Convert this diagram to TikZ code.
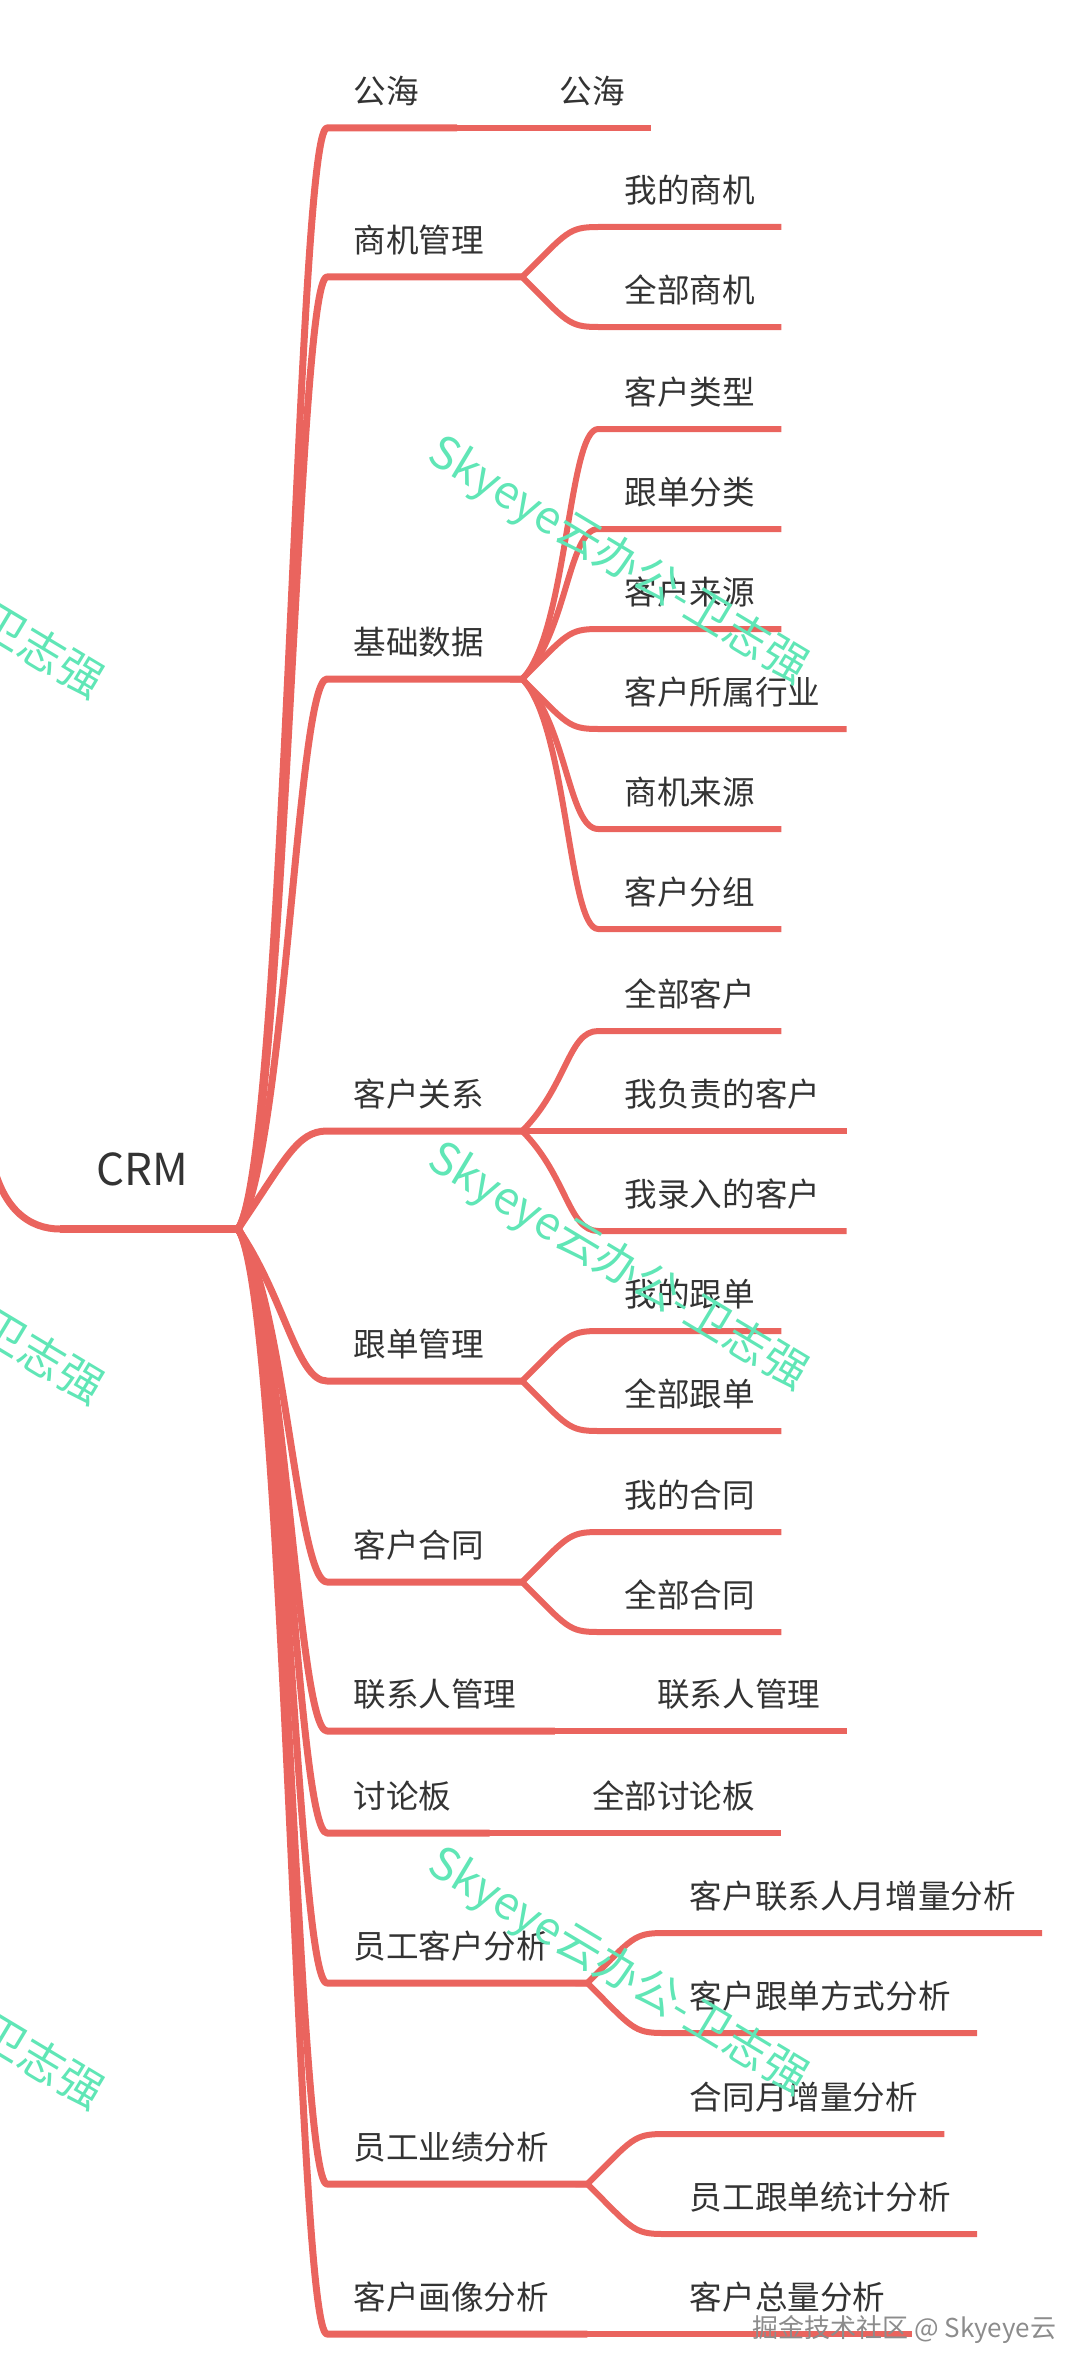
\documentclass[tikz,border=0pt]{standalone}
\usepackage{fontspec}
\newfontfamily\cjk{Noto Sans CJK SC}
\usetikzlibrary{positioning}
\definecolor{linkred}{RGB}{234,100,94}
\definecolor{textgray}{RGB}{51,51,51}
\definecolor{wmgreen}{RGB}{96,230,182}
\definecolor{wmgray}{RGB}{140,140,140}

\begin{document}
\begin{tikzpicture}[x=0.5pt, y=-0.5pt,
    root/.style={anchor=base west, inner sep=0pt, text=textgray, font=\cjk\fontsize{22}{26}\selectfont},
    topic/.style={anchor=south west, inner xsep=13pt, inner ysep=12pt, text depth=0pt, text=textgray, font=\cjk\fontsize{16.3}{20}\selectfont},
    leaf/.style={topic},
    trunk/.style={draw=linkred, line width=3.5pt, line join=round},
    link/.style={draw=linkred, line width=3pt, line join=round},
    wmark/.style={text=wmgreen, rotate=-31, inner sep=0pt, font=\cjk\fontsize{22.5}{26}\selectfont},
    site/.style={anchor=base west, inner sep=0pt, text=wmgray, font=\cjk\fontsize{13}{16}\selectfont}
]
    \useasboundingbox (0,0) rectangle (1080,2376);

    \node[root] (crm) at (96,1185) {CRM};
    \coordinate (crm-in) at (-10,1150);
    \coordinate (crm-l) at (60,1229);
    \coordinate (crm-j) at (238,1229);

    \node[topic] (gh) at (327,128) {公海};
    \node[topic] (sjgl) at (327,277) {商机管理};
    \node[topic] (jcsj) at (327,679) {基础数据};
    \node[topic] (khgx) at (327,1131) {客户关系};
    \node[topic] (gdgl) at (327,1381) {跟单管理};
    \node[topic] (khht) at (327,1582) {客户合同};
    \node[topic] (lxrgl) at (327,1731) {联系人管理};
    \node[topic] (tlb) at (327,1833) {讨论板};
    \node[topic] (ygkh) at (327,1983) {员工客户分析};
    \node[topic] (ygyj) at (327,2184) {员工业绩分析};
    \node[topic] (khhx) at (327,2334) {客户画像分析};

    \coordinate[right=6pt of gh.south east] (gh-j);
    \coordinate[right=6pt of sjgl.south east] (sjgl-j);
    \coordinate[right=6pt of jcsj.south east] (jcsj-j);
    \coordinate[right=6pt of khgx.south east] (khgx-j);
    \coordinate[right=6pt of gdgl.south east] (gdgl-j);
    \coordinate[right=6pt of khht.south east] (khht-j);
    \coordinate[right=6pt of lxrgl.south east] (lxrgl-j);
    \coordinate[right=6pt of tlb.south east] (tlb-j);
    \coordinate[right=6pt of ygkh.south east] (ygkh-j);
    \coordinate[right=6pt of ygyj.south east] (ygyj-j);
    \coordinate[right=6pt of khhx.south east] (khhx-j);

    \node[leaf, right=38pt of gh-j, anchor=south west] (gh1) {公海};

    \node[leaf, above right=25pt and 38pt of sjgl-j] (wdsj) {我的商机};
    \node[leaf, below right=25pt and 38pt of sjgl-j, anchor=south west] (qbsj) {全部商机};

    \node[leaf, above right=125pt and 38pt of jcsj-j] (khlx) {客户类型};
    \node[leaf, above right=75pt and 38pt of jcsj-j] (gdfl) {跟单分类};
    \node[leaf, above right=25pt and 38pt of jcsj-j] (khly) {客户来源};
    \node[leaf, below right=25pt and 38pt of jcsj-j, anchor=south west] (khhy) {客户所属行业};
    \node[leaf, below right=75pt and 38pt of jcsj-j, anchor=south west] (sjly) {商机来源};
    \node[leaf, below right=125pt and 38pt of jcsj-j, anchor=south west] (khfz) {客户分组};

    \node[leaf, above right=50pt and 38pt of khgx-j] (qbkh) {全部客户};
    \node[leaf, right=38pt of khgx-j, anchor=south west] (wfzkh) {我负责的客户};
    \node[leaf, below right=50pt and 38pt of khgx-j, anchor=south west] (wlrkh) {我录入的客户};

    \node[leaf, above right=25pt and 38pt of gdgl-j] (wdgd) {我的跟单};
    \node[leaf, below right=25pt and 38pt of gdgl-j, anchor=south west] (qbgd) {全部跟单};

    \node[leaf, above right=25pt and 38pt of khht-j] (wdht) {我的合同};
    \node[leaf, below right=25pt and 38pt of khht-j, anchor=south west] (qbht) {全部合同};

    \node[leaf, right=38pt of lxrgl-j, anchor=south west] (lxrgl1) {联系人管理};
    \node[leaf, right=38pt of tlb-j, anchor=south west] (qbtlb) {全部讨论板};

    \node[leaf, above right=25pt and 38pt of ygkh-j] (lxrzl) {客户联系人月增量分析};
    \node[leaf, below right=25pt and 38pt of ygkh-j, anchor=south west] (gdfs) {客户跟单方式分析};

    \node[leaf, above right=25pt and 38pt of ygyj-j] (htzl) {合同月增量分析};
    \node[leaf, below right=25pt and 38pt of ygyj-j, anchor=south west] (gdtj) {员工跟单统计分析};

    \node[leaf, right=38pt of khhx-j, anchor=south west] (khzl) {客户总量分析};

    \draw[trunk] (crm-in) .. controls +(10,60) and +(-30,0) .. (crm-l) -- (crm-j);
    \draw[trunk] (crm-l) -- (crm-j) .. controls +(47,-69) and +(-30,0) .. (gh.south west) -- (gh-j);
    \draw[trunk] (crm-l) -- (crm-j) .. controls +(47,-69) and +(-30,0) .. (sjgl.south west) -- (sjgl-j);
    \draw[trunk] (crm-l) -- (crm-j) .. controls +(47,-69) and +(-30,0) .. (jcsj.south west) -- (jcsj-j);
    \draw[trunk] (crm-l) -- (crm-j) .. controls +(47,-69) and +(-30,0) .. (khgx.south west) -- (khgx-j);
    \draw[trunk] (crm-l) -- (crm-j) .. controls +(47,69) and +(-30,0) .. (gdgl.south west) -- (gdgl-j);
    \draw[trunk] (crm-l) -- (crm-j) .. controls +(47,69) and +(-30,0) .. (khht.south west) -- (khht-j);
    \draw[trunk] (crm-l) -- (crm-j) .. controls +(47,69) and +(-30,0) .. (lxrgl.south west) -- (lxrgl-j);
    \draw[trunk] (crm-l) -- (crm-j) .. controls +(47,69) and +(-30,0) .. (tlb.south west) -- (tlb-j);
    \draw[trunk] (crm-l) -- (crm-j) .. controls +(47,69) and +(-30,0) .. (ygkh.south west) -- (ygkh-j);
    \draw[trunk] (crm-l) -- (crm-j) .. controls +(47,69) and +(-30,0) .. (ygyj.south west) -- (ygyj-j);
    \draw[trunk] (crm-l) -- (crm-j) .. controls +(47,69) and +(-30,0) .. (khhx.south west) -- (khhx-j);

    \draw[link] (gh.south east) -- (gh-j) -- (gh1.south west) -- (gh1.south east);

    \draw[link] (sjgl.south east) -- (sjgl-j) .. controls +(45,-45) and +(-30,0) .. (wdsj.south west) -- (wdsj.south east);
    \draw[link] (sjgl.south east) -- (sjgl-j) .. controls +(45,45) and +(-30,0) .. (qbsj.south west) -- (qbsj.south east);

    \draw[link] (jcsj.south east) -- (jcsj-j) .. controls +(45,-45) and +(-30,0) .. (khlx.south west) -- (khlx.south east);
    \draw[link] (jcsj.south east) -- (jcsj-j) .. controls +(45,-45) and +(-30,0) .. (gdfl.south west) -- (gdfl.south east);
    \draw[link] (jcsj.south east) -- (jcsj-j) .. controls +(45,-45) and +(-30,0) .. (khly.south west) -- (khly.south east);
    \draw[link] (jcsj.south east) -- (jcsj-j) .. controls +(45,45) and +(-30,0) .. (khhy.south west) -- (khhy.south east);
    \draw[link] (jcsj.south east) -- (jcsj-j) .. controls +(45,45) and +(-30,0) .. (sjly.south west) -- (sjly.south east);
    \draw[link] (jcsj.south east) -- (jcsj-j) .. controls +(45,45) and +(-30,0) .. (khfz.south west) -- (khfz.south east);

    \draw[link] (khgx.south east) -- (khgx-j) .. controls +(45,-45) and +(-30,0) .. (qbkh.south west) -- (qbkh.south east);
    \draw[link] (khgx.south east) -- (khgx-j) -- (wfzkh.south west) -- (wfzkh.south east);
    \draw[link] (khgx.south east) -- (khgx-j) .. controls +(45,45) and +(-30,0) .. (wlrkh.south west) -- (wlrkh.south east);

    \draw[link] (gdgl.south east) -- (gdgl-j) .. controls +(45,-45) and +(-30,0) .. (wdgd.south west) -- (wdgd.south east);
    \draw[link] (gdgl.south east) -- (gdgl-j) .. controls +(45,45) and +(-30,0) .. (qbgd.south west) -- (qbgd.south east);

    \draw[link] (khht.south east) -- (khht-j) .. controls +(45,-45) and +(-30,0) .. (wdht.south west) -- (wdht.south east);
    \draw[link] (khht.south east) -- (khht-j) .. controls +(45,45) and +(-30,0) .. (qbht.south west) -- (qbht.south east);

    \draw[link] (lxrgl.south east) -- (lxrgl-j) -- (lxrgl1.south west) -- (lxrgl1.south east);
    \draw[link] (tlb.south east) -- (tlb-j) -- (qbtlb.south west) -- (qbtlb.south east);

    \draw[link] (ygkh.south east) -- (ygkh-j) .. controls +(45,-45) and +(-30,0) .. (lxrzl.south west) -- (lxrzl.south east);
    \draw[link] (ygkh.south east) -- (ygkh-j) .. controls +(45,45) and +(-30,0) .. (gdfs.south west) -- (gdfs.south east);

    \draw[link] (ygyj.south east) -- (ygyj-j) .. controls +(45,-45) and +(-30,0) .. (htzl.south west) -- (htzl.south east);
    \draw[link] (ygyj.south east) -- (ygyj-j) .. controls +(45,45) and +(-30,0) .. (gdtj.south west) -- (gdtj.south east);

    \draw[link] (khhx.south east) -- (khhx-j) -- (khzl.south west) -- (khzl.south east);

    \node[wmark] (wm1) at (618,561) {Skyeye云办公-卫志强};
    \node[wmark] (wm2) at (618,1267) {Skyeye云办公-卫志强};
    \node[wmark] (wm3) at (618,1972) {Skyeye云办公-卫志强};
    \node[wmark] (wm4) at (-87,576) {Skyeye云办公-卫志强};
    \node[wmark] (wm5) at (-87,1282) {Skyeye云办公-卫志强};
    \node[wmark] (wm6) at (-87,1987) {Skyeye云办公-卫志强};
    \node[site] (site) at (752,2337) {掘金技术社区 @ Skyeye云};
\end{tikzpicture}
\end{document}
